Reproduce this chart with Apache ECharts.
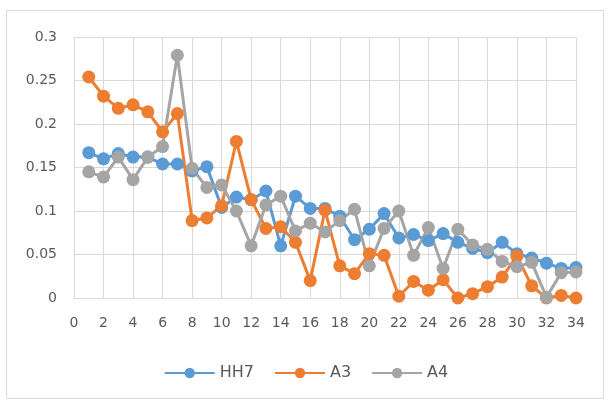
<!DOCTYPE html>
<html>
<head>
<meta charset="utf-8">
<script src="https://cdn.jsdelivr.net/npm/echarts@6/dist/echarts.min.js"></script>
<style>
html,body{margin:0;padding:0;background:#fff;}
#c{width:612px;height:403px;}
</style>
</head>
<body>
<div id="c"></div>
<script>
var xValues = [1,2,3,4,5,6,7,8,9,10,11,12,13,14,15,16,17,18,19,20,21,22,23,24,25,26,27,28,29,30,31,32,33,34];
var seriesNames = ['HH7','A3','A4'];
var hh7 = [0.167,0.160,0.166,0.162,0.162,0.154,0.154,0.146,0.151,0.104,0.116,0.113,0.123,0.060,0.117,0.103,0.103,0.094,0.067,0.079,0.097,0.069,0.073,0.066,0.074,0.064,0.057,0.052,0.064,0.051,0.046,0.040,0.034,0.035];
var a3 = [0.254,0.232,0.218,0.222,0.214,0.191,0.212,0.089,0.092,0.106,0.180,0.113,0.080,0.082,0.064,0.020,0.101,0.037,0.028,0.051,0.049,0.002,0.019,0.009,0.021,0.000,0.005,0.013,0.024,0.048,0.014,0.000,0.003,0.000];
var a4 = [0.145,0.139,0.162,0.136,0.162,0.174,0.279,0.149,0.127,0.130,0.100,0.060,0.107,0.117,0.077,0.086,0.076,0.089,0.102,0.037,0.080,0.100,0.049,0.081,0.034,0.079,0.061,0.056,0.042,0.036,0.041,0.001,0.029,0.030];
var colors = ['#5B9BD5','#ED7D31','#A5A5A5'];

function pairs(v){ return xValues.map(function(x,i){ return [x, v[i]]; }); }
var font = 'DejaVu Sans';
var chart = echarts.init(document.getElementById('c'), null, {renderer:'canvas'});
chart.setOption({
  animation:false,
  color: colors,
  graphic:[{type:'rect', shape:{x:6.5,y:10.5,width:597,height:388}, style:{fill:null, stroke:'#d9d9d9', lineWidth:1}, z:-10}],
  grid:{left:74, right:36, top:37, bottom:105},
  legend:{
    data: seriesNames,
    bottom: 17,
    left: 'center',
    itemWidth: 50,
    itemHeight: 13,
    itemGap: 20,
    textStyle:{color:'#595959', fontSize:16, fontFamily:font}
  },
  xAxis:{
    type:'value', min:0, max:34, interval:2,
    axisLine:{show:true, lineStyle:{color:'#d9d9d9', width:1}},
    axisTick:{show:false},
    splitLine:{show:true, lineStyle:{color:'#d9d9d9', width:1}},
    axisLabel:{color:'#595959', fontSize:14, fontFamily:font, margin:18}
  },
  yAxis:{
    type:'value', min:0, max:0.3, interval:0.05,
    axisLine:{show:false},
    axisTick:{show:false},
    splitLine:{show:true, lineStyle:{color:'#d9d9d9', width:1}},
    axisLabel:{color:'#595959', fontSize:14, fontFamily:font, margin:17}
  },
  series:[
    {name:seriesNames[0], type:'line', data:pairs(hh7), symbol:'circle', symbolSize:13, lineStyle:{width:3}, itemStyle:{color:colors[0]}},
    {name:seriesNames[1], type:'line', data:pairs(a3), symbol:'circle', symbolSize:13, lineStyle:{width:3}, itemStyle:{color:colors[1]}},
    {name:seriesNames[2], type:'line', data:pairs(a4), symbol:'circle', symbolSize:13, lineStyle:{width:3}, itemStyle:{color:colors[2]}}
  ]
});
</script>
</body>
</html>
